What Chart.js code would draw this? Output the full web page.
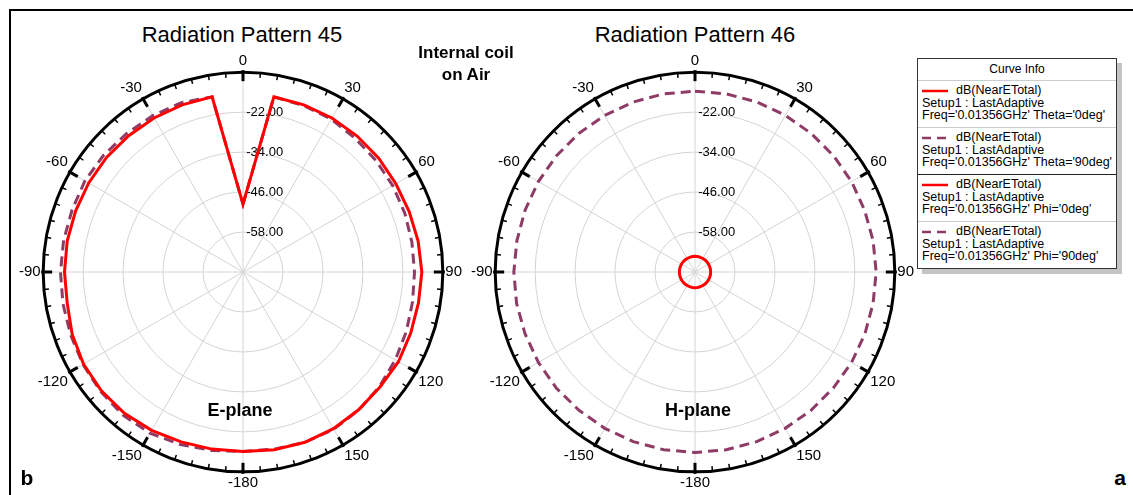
<!DOCTYPE html>
<html>
<head>
<meta charset="utf-8">
<script src="https://cdn.jsdelivr.net/npm/chart.js@4.4.0/dist/chart.umd.min.js"></script>
<style>
  body { margin: 0; background: #fff; font-family: "Liberation Sans", Arial, sans-serif; color: #000; }
  #page { position: relative; width: 1133px; height: 495px; overflow: hidden; }
  .frame-top { position: absolute; left: 9px; top: 9px; width: 1124px; height: 2px; background: #000; }
  .frame-left { position: absolute; left: 9px; top: 9px; width: 2px; height: 486px; background: #000; }
  .chartbox { position: absolute; width: 448px; height: 448px; left: 0; top: 0; }
  .txt { position: absolute; transform: translate(-50%, -50%); white-space: nowrap; text-align: center; }
  .title { font-size: 22px; }
  .note { font-size: 17px; font-weight: bold; line-height: 22px; }
  .plane { font-size: 18px; font-weight: bold; }
  .panel { font-size: 21px; font-weight: bold; }
  #legend { position: absolute; left: 917px; top: 58px; width: 198px; border: 1px solid #333;
            background: #fff; box-shadow: 5px 5px 0 #c4c4c4; font-size: 12.5px; }
  .lg-head { text-align: center; height: 21px; line-height: 21px; border-bottom: 1px solid #ccc; font-size: 12px; }
  .lg-row { padding: 3px 0 5.5px 4px; line-height: 12.5px; border-bottom: 1px solid #ccc; }
  .lg-row.split { border-bottom: 1px solid #222; }
  .lg-row:last-child { border-bottom: none; }
  .lg-row svg { vertical-align: middle; margin-right: 8px; }
</style>
</head>
<body>
<div id="page">
  <div class="frame-top"></div>
  <div class="frame-left"></div>

  <div class="chartbox" id="box45"><canvas id="chart45"></canvas></div>
  <div class="chartbox" id="box46"><canvas id="chart46"></canvas></div>

  <div class="txt title" style="left:242px; top:35px;">Radiation Pattern 45</div>
  <div class="txt title" style="left:695px; top:35px;">Radiation Pattern 46</div>
  <div class="txt note" style="left:466px; top:64px;">Internal coil<br>on Air</div>
  <div class="txt plane" style="left:240px; top:410px;">E-plane</div>
  <div class="txt plane" style="left:698px; top:410px;">H-plane</div>
  <div class="txt panel" style="left:27px; top:478px;">b</div>
  <div class="txt panel" style="left:1120px; top:478px;">a</div>

  <div id="legend"></div>
</div>

<script>
// Angles of the pattern samples, clockwise from the top of the plot (deg).
const ANGLES = [0, 10, 20, 30, 40, 50, 60, 70, 80, 90, 100, 110, 120, 130, 140, 150, 160, 170,
  -180, -170, -160, -150, -140, -130, -120, -110, -100, -90, -80, -70, -60, -50, -40, -30, -20, -10];

// Radiation Pattern 45 (E-plane), dB(NearETotal)
const E_SOLID = [-49.6, -16.6, -16.6, -16.6, -16.7, -16.8, -17.0, -16.9, -16.6, -16.3, -16.5, -16.4,
  -16.1, -16.3, -16.0, -15.7, -15.6, -15.8, -16.1, -16.0, -15.7, -15.1, -14.6, -14.5, -14.7, -15.4,
  -16.4, -16.4, -16.4, -16.5, -16.5, -16.5, -16.6, -16.6, -16.6, -16.6];
const E_DASHED = [-49.6, -16.6, -16.8, -17.0, -17.6, -17.9, -18.1, -18.3, -18.5, -18.5, -18.3, -17.8,
  -17.2, -16.5, -15.9, -15.5, -15.6, -16.0, -16.1, -15.6, -14.9, -14.1, -13.9, -14.2, -14.5, -14.9,
  -15.1, -15.2, -15.3, -15.4, -15.2, -15.4, -15.7, -15.8, -15.9, -16.6];

// Radiation Pattern 46 (H-plane), dB(NearETotal)
const H_SOLID = [-65.3, -65.3, -65.3, -65.3, -65.3, -65.3, -65.3, -65.3, -65.3, -65.3, -65.3, -65.3,
  -65.3, -65.3, -65.3, -65.3, -65.3, -65.3, -65.3, -65.3, -65.3, -65.3, -65.3, -65.3, -65.3, -65.3,
  -65.3, -65.3, -65.3, -65.3, -65.3, -65.3, -65.3, -65.3, -65.3, -65.3];
const H_DASHED = [-15.7, -15.7, -15.7, -15.7, -15.7, -15.7, -15.7, -15.8, -15.7, -15.6, -15.7, -15.7,
  -15.7, -15.8, -15.8, -15.8, -15.8, -15.8, -15.8, -15.8, -15.8, -15.8, -15.8, -15.7, -15.7, -15.7,
  -15.6, -15.6, -15.7, -15.7, -15.7, -15.7, -15.7, -15.7, -15.7, -15.7];

const R_MIN = -70;
const R_MAX = -10;
const R_STEP = 12;

const RED = "#ff0000";
const PLUM = "#8e3b66";

const LEGEND_ENTRIES = [
  { color: RED, dash: false, sweep: "Theta='0deg'" },
  { color: PLUM, dash: true, sweep: "Theta='90deg'" },
  { color: RED, dash: false, sweep: "Phi='0deg'" },
  { color: PLUM, dash: true, sweep: "Phi='90deg'" },
];

Chart.defaults.font.family = '"Liberation Sans", Arial, sans-serif';
Chart.defaults.color = "#000";

// inward tick marks round the outer ring, every 5 deg, bigger every 30 deg
const ringTicks = {
  id: "ringTicks",
  afterDraw(chart) {
    const s = chart.scales.r;
    const ctx = chart.ctx;
    const R = s.drawingArea;
    ctx.save();
    ctx.strokeStyle = "#000";
    for (let deg = 0; deg < 360; deg += 5) {
      const major = deg % 30 === 0;
      const a = (deg * Math.PI) / 180 - Math.PI / 2;
      const r0 = major ? R - 9 : R - 5;
      const r1 = major ? R + 2 : R;
      ctx.lineWidth = major ? 3 : 1.5;
      ctx.beginPath();
      ctx.moveTo(s.xCenter + Math.cos(a) * r0, s.yCenter + Math.sin(a) * r0);
      ctx.lineTo(s.xCenter + Math.cos(a) * r1, s.yCenter + Math.sin(a) * r1);
      ctx.stroke();
    }
    ctx.restore();
  },
};

// radial tick labels sit just right of the 0 deg spoke in the original
const PAD = "\u2007".repeat(6);

function makePattern(canvasId, solid, dashed) {
  return new Chart(document.getElementById(canvasId), {
    type: "radar",
    data: {
      labels: ANGLES,
      datasets: [
        { data: solid, borderColor: RED, borderWidth: 3, fill: false, pointRadius: 0, tension: 0 },
        { data: dashed, borderColor: PLUM, borderWidth: 3, borderDash: [10, 6], fill: false, pointRadius: 0, tension: 0 },
      ],
    },
    options: {
      responsive: true,
      maintainAspectRatio: false,
      animation: false,
      plugins: { legend: { display: false }, tooltip: { enabled: false } },
      scales: {
        r: {
          min: R_MIN,
          max: R_MAX,
          beginAtZero: false,
          ticks: {
            stepSize: R_STEP,
            color: "#000",
            font: { size: 13 },
            showLabelBackdrop: false,
            callback: (v) => (v === R_MIN || v === R_MAX ? "" : PAD + v.toFixed(2)),
          },
          grid: {
            circular: true,
            color: (ctx) => (ctx.tick && ctx.tick.value === R_MAX ? "#000" : "#d4d4d4"),
            lineWidth: (ctx) => (ctx.tick && ctx.tick.value === R_MAX ? 3 : 1),
          },
          angleLines: {
            color: "#d4d4d4",
            lineWidth: (ctx) => (ANGLES[ctx.index] % 30 === 0 ? 1 : 0),
          },
          pointLabels: {
            color: "#000",
            font: { size: 15 },
            // the scale already pushes labels out by half a tick-label height
            padding: -6,
            callback: (label) => (label % 30 === 0 ? String(label) : ""),
          },
        },
      },
    },
    plugins: [ringTicks],
  });
}

const c45 = makePattern("chart45", E_SOLID, E_DASHED);
const c46 = makePattern("chart46", H_SOLID, H_DASHED);

// move each plot box so its pole sits where the original had it
function placeBox(id, chart, cx, cy) {
  const s = chart.scales.r;
  const el = document.getElementById(id);
  el.style.left = `${Math.round(cx - s.xCenter)}px`;
  el.style.top = `${Math.round(cy - s.yCenter)}px`;
}
placeBox("box45", c45, 243, 272);
placeBox("box46", c46, 695, 272);

// Curve Info box
const legendEl = document.getElementById("legend");
let html = `<div class="lg-head">Curve Info</div>`;
LEGEND_ENTRIES.forEach((e, i) => {
  const line = e.dash
    ? `<svg width="26" height="6"><line x1="0" y1="3" x2="26" y2="3" stroke="${e.color}" stroke-width="2.5" stroke-dasharray="9,6"/></svg>`
    : `<svg width="26" height="6"><line x1="0" y1="3" x2="26" y2="3" stroke="${e.color}" stroke-width="2.5"/></svg>`;
  html += `<div class="lg-row${i === 1 ? " split" : ""}">${line}dB(NearETotal)<br>Setup1 : LastAdaptive<br>Freq='0.01356GHz' ${e.sweep}</div>`;
});
legendEl.innerHTML = html;
</script>
</body>
</html>
